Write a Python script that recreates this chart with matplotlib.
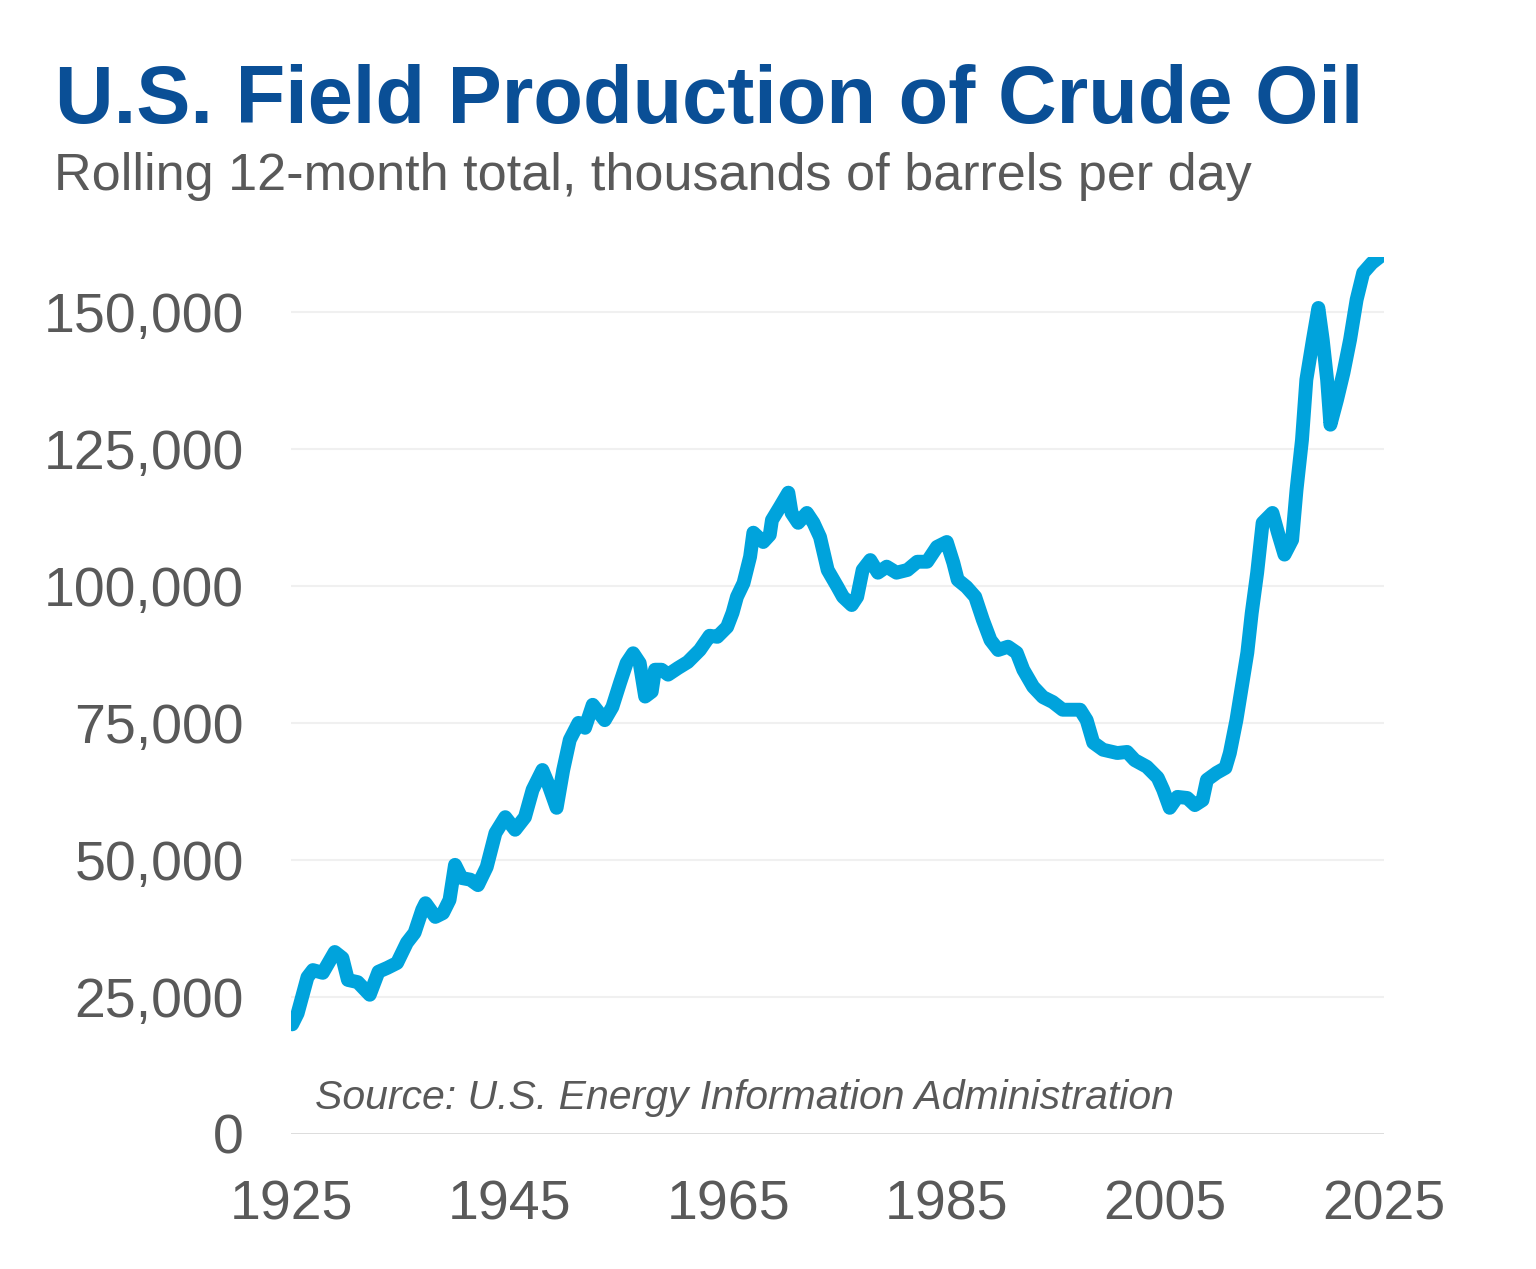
import matplotlib
matplotlib.use('Agg')
import matplotlib.pyplot as plt
from matplotlib.ticker import FuncFormatter

plt.rcParams['font.family'] = ['Liberation Sans', 'DejaVu Sans']

# data
years = [1925.1, 1925.6, 1926.5, 1927.0, 1927.9, 1929.0, 1929.7, 1930.2, 1931.1, 1932.2,
         1933.0, 1933.8, 1934.7, 1935.6, 1936.3, 1937.0, 1937.3, 1938.2, 1938.9, 1939.5,
         1940.0, 1940.6, 1941.4, 1942.1, 1942.9, 1943.7, 1944.6, 1945.5, 1946.4, 1947.1,
         1948.0, 1948.5, 1949.3, 1949.9, 1950.5, 1951.3, 1951.9, 1952.6, 1953.7, 1954.4,
         1955.1, 1955.7, 1956.3, 1956.9, 1957.4, 1958.0, 1958.3, 1958.9, 1959.5, 1960.4,
         1961.3, 1962.4, 1963.3, 1964.0, 1964.9, 1965.4, 1965.8, 1966.4, 1967.0, 1967.3,
         1968.2, 1968.8, 1969.0, 1969.7, 1970.5, 1970.8, 1971.4, 1972.2, 1972.8, 1973.4,
         1974.1, 1975.0, 1975.5, 1976.3, 1976.8, 1977.3, 1978.0, 1978.7, 1979.5, 1980.4,
         1981.4, 1982.3, 1983.2, 1984.1, 1985.0, 1985.6, 1986.0, 1986.8, 1987.6, 1988.3,
         1989.0, 1989.7, 1990.6, 1991.4, 1992.0, 1992.9, 1993.8, 1994.7, 1995.6, 1997.2,
         1997.8, 1998.4, 1999.3, 2000.6, 2001.5, 2002.2, 2003.3, 2004.3, 2004.8, 2005.4,
         2006.1, 2007.0, 2007.7, 2008.4, 2008.8, 2009.7, 2010.5, 2010.9, 2011.5, 2012.0,
         2012.5, 2012.9, 2013.4, 2013.9, 2014.8, 2015.3, 2015.9, 2016.6, 2017.0, 2017.5,
         2017.9, 2018.5, 2019.0, 2019.4, 2019.8, 2020.1, 2020.7, 2021.3, 2021.9, 2022.5,
         2023.1, 2023.9, 2024.6]
production = [20000, 22000, 28600, 29900, 29400, 33200, 32100, 28100, 27700, 25400,
              29600, 30300, 31200, 34900, 36700, 40900, 42100, 39600, 40300, 42700,
              49100, 46700, 46400, 45400, 48700, 54900, 57800, 55500, 57800, 62800,
              66400, 64000, 59500, 66400, 71900, 75000, 74100, 78300, 75500, 77900,
              82300, 85900, 87700, 85900, 79800, 80700, 84700, 84700, 83800, 85000,
              86100, 88300, 90900, 90700, 92500, 95100, 98000, 100500, 105300, 109700,
              108000, 109300, 112000, 114300, 117000, 113300, 111500, 113300, 111500, 108900,
              102900, 99800, 98000, 96500, 98000, 102900, 104700, 102400, 103500, 102400,
              102900, 104400, 104400, 107100, 108000, 104200, 101100, 99800, 98000, 93800,
              90100, 88300, 88900, 87800, 84700, 81600, 79700, 78800, 77400, 77400,
              75500, 71400, 70100, 69500, 69700, 68200, 67000, 65000, 62800, 59500,
              61500, 61300, 60000, 60900, 64600, 65900, 66800, 69500, 75500, 81600,
              87800, 95000, 102400, 111500, 113300, 109700, 105700, 108400, 117500, 126600,
              137600, 144900, 150700, 144900, 137600, 129400, 133900, 138900, 144900, 152200,
              157100, 158900, 160000]

x_ticks = [1925, 1945, 1965, 1985, 2005, 2025]
y_ticks = [0, 25000, 50000, 75000, 100000, 125000, 150000]

gray = '#595959'

fig = plt.figure(figsize=(15.36, 12.69), dpi=100)
ax = fig.add_axes([0.1895, 0.1064, 0.7115, 0.6911])

# gridlines
for v in y_ticks[1:]:
    ax.axhline(v, color='#f0f0f0', lw=1.5, zorder=0)
ax.axhline(0, color='#d9d9d9', lw=2, zorder=1)

ax.plot(years, production, color='#00a3dc', lw=10, solid_capstyle='round',
        solid_joinstyle='round', zorder=3)

ax.set_xlim(1925, 2025)
ax.set_ylim(0, 160000)
ax.set_xticks(x_ticks)
ax.set_yticks(y_ticks)
ax.yaxis.set_major_formatter(FuncFormatter(lambda v, p: f'{int(v):,}'))
ax.tick_params(axis='both', length=0, labelsize=40, colors=gray)
ax.tick_params(axis='y', pad=34)
ax.tick_params(axis='x', pad=33)
for s in ax.spines.values():
    s.set_visible(False)

fig.text(0.036, 0.903, 'U.S. Field Production of Crude Oil', fontsize=58.5,
         fontweight='bold', color='#0a4f96')
fig.text(0.035, 0.85, 'Rolling 12-month total, thousands of barrels per day',
         fontsize=37.5, color=gray)
ax.text(1927.2, 4500, 'Source: U.S. Energy Information Administration',
        fontsize=29.5, style='italic', color=gray)

fig.savefig('out.png', dpi=100, facecolor='white')
